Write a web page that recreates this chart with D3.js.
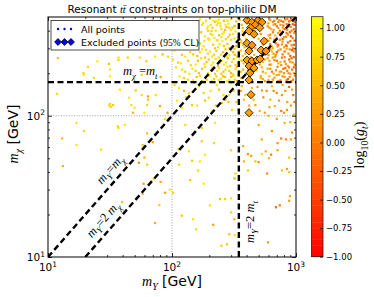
<!DOCTYPE html>
<html>
<head>
<meta charset="utf-8">
<script src="https://d3js.org/d3.v7.min.js"></script>
<style>
  body { margin: 0; background: #fff; }
  svg { display: block; font-family: "DejaVu Sans", sans-serif; }
</style>
</head>
<body>
<svg id="chart" width="374" height="297"></svg>
<script>
  // scan points [mY (GeV), mX (GeV), log10(g_t)]
  const scanLeft = [
    [21,222,0.8],[25,243,0.9],[31,233,0.6],[31.6,213,0.85],[19.3,200,0.7],[19.5,195,0.9],[23.5,185,0.75],
    [31.6,190,0.95],[11.8,143,0.8],[31.6,121,0.7],[31,119,0.9],[32,116,0.6],[17,89,0.85],[19.5,78,0.75],
    [13,69,0.5],[17,62,0.9],[26.8,57.5,0.8],[13.2,44,0.45],[37,82,0.85],[12,256,0.6],[37,258,0.9],
    [37,248,0.8],[44,258,0.7],[55,258,0.85],[62,243,0.65],[73,262,0.9],[84,272,0.5],[93,262,0.8],
    [57,195,0.7],[69,210,0.9],[81,188,0.4],[38,153,0.85],[51,151,0.6],[45,134,0.9],[57,140,0.75],
    [64,137,0.3],[74,140,0.8],[33.5,119,0.7],[47,119,0.85],[50,114,0.9],[64,130,0.6],[63,119,0.8],
    [48.5,105,0.5],[60,105,0.9],[80,117,0.4],[36.6,84,0.75],[41.6,86,0.9],[63,75,0.6],[88,95,0.8],
    [92,105,0.3],[58,62,0.6],[70,65,0.3],[60,50.6,0.5],[54,46.5,0.2],[63,45,0.7],[59,33,0.3],
    [71,35.5,0.85],[81,34,0.4],[58,28,0.5],[88,28.5,0.3],[96,30,0.9],[39.6,24.5,0.6],[79,23.3,0.7],
    [73,17.4,0.4],[70,480,0.7],[80,470,0.5],[90,485,0.8],[95,465,0.6]
  ];
  const scanLowRight = [
    [174,66,0.7],[218,64,0.8],[113,58,0.6],[137,56,0.85],[185,53,0.9],[145,48,0.7],[168,47.5,0.9],
    [114,45,0.75],[162,41,0.8],[140,35,0.6],[180,33,0.85],[300,57,0.7],[375,61,0.4],[410,53.5,0.2],
    [435,52,0.3],[380,47.5,0.5],[470,47.5,0.6],[500,47,0.2],[530,53.5,0.8],[570,56,0.4],[630,53,0.1],
    [605,50,0.5],[710,57,0.3],[880,50.6,0.6],[325,39,0.8],[320,36,0.4],[410,41,0.7],[585,39,0.2],
    [770,41,0.6],[845,42,0.3],[880,40,0.7],[895,27,0.4],[880,25,0.3],[690,22.5,-0.2],[740,23.2,0.0],
    [102,28.5,0.7],[120,19.6,0.6],[148,18.5,0.85],[156,15.7,0.8],[202,23.2,0.9],[244,25.7,0.6],
    [268,25.7,0.7],[300,26,0.9],[215,16.9,0.3],[300,20.7,0.7],[318,18.5,0.4],[290,14.5,0.6],
    [320,14.3,0.85],[250,12,0.7],[278,12.3,0.6],[595,12.7,0.3],[530,68,0.4],[710,64,0.2],[830,68,0.1],
    [910,68,0.3],[760,69,0.0],[128,86,0.8],[174,82,0.7],[222,89,0.9],[345,80,0.6],[500,86,0.4],
    [640,78,0.2],[810,89,0.5],[930,76,0.1]
  ];
  const scanMid = [
    [114,157,0.9],[137,144,0.7],[165,162,0.85],[198,134,0.8],[240,153,0.6],[288,140,0.9],[441,157,0.5],
    [532,151,0.3],[640,162,0.6],[770,140,0.2],[930,153,0.4],[120,114,0.8],[145,119,0.7],[210,108,0.9],
    [252,123,0.6],[305,110,0.8],[470,119,0.4],[560,105,0.3],[675,117,0.5],[845,110,0.2],[960,102,0.4],
    [105,165,0.8],[125,150,0.6],[150,170,0.9],[180,145,0.75],[230,165,0.85],[270,130,0.5],[300,170,0.9],
    [330,125,0.7],[360,150,0.4],[380,130,0.6],[580,150,0.2],[620,130,0.5],[700,145,0.1],[780,165,0.4],
    [850,125,0.3],[950,140,0.0],[600,100,0.5],[700,95,0.3],[800,105,0.2],[900,90,0.4],
    [110,128,0.9],[130,135,0.7],[160,118,0.85],[185,128,0.6],[205,150,0.9],[225,118,0.7],[260,140,0.8],
    [285,125,0.6],[315,150,0.85],[340,110,0.7],[365,162,0.5],[390,140,0.6],[420,118,0.4],[455,130,0.5],
    [490,160,0.3],[510,108,0.5],[545,135,0.2],[610,115,0.4],[660,150,0.1],[730,128,0.3],[760,108,0.0],
    [820,150,0.2],[880,160,-0.1],[910,118,0.3],[970,125,0.1]
  ];
  const scanHigh = [
    [168,480,0.9],[188,470,0.8],[203,485,0.95],[222,462,0.7],[238,478,0.9],[262,470,0.6],[300,482,0.8],
    [330,465,0.5],[610,478,0.3],[650,462,0.1],[700,485,0.4],[760,470,-0.1],[820,480,0.2],[880,465,-0.3],
    [950,476,0.1],[175,440,0.85],[195,430,0.95],[212,420,0.7],[230,438,0.9],[250,410,0.8],[275,425,0.6],
    [298,405,0.9],[320,432,0.4],[345,415,0.7],[365,440,0.5],[590,430,0.2],[630,410,0.5],[680,445,0.0],
    [720,418,0.3],[790,435,-0.2],[850,405,0.2],[905,425,0.0],[970,440,-0.4],[172,390,0.7],[185,365,0.9],
    [205,380,0.8],[220,355,0.95],[240,372,0.6],[262,390,0.85],[285,360,0.7],[310,380,0.9],[340,358,0.5],
    [370,395,0.7],[600,370,0.4],[650,390,0.1],[700,355,0.3],[760,380,-0.1],[830,362,0.2],[890,390,-0.2],
    [940,355,0.1],[110,340,0.8],[125,320,0.9],[150,330,0.6],[180,310,0.85],[200,345,0.9],[215,318,0.7],
    [235,305,0.8],[255,338,0.95],[280,322,0.6],[300,345,0.8],[330,312,0.5],[360,330,0.7],[385,305,0.4],
    [600,340,0.3],[640,310,0.6],[690,325,0.0],[740,345,0.2],[800,305,0.4],[860,330,-0.1],[920,315,0.1],
    [975,340,-0.3],[105,290,0.9],[120,270,0.7],[140,282,0.85],[160,265,0.6],[175,295,0.9],[195,275,0.8],
    [210,262,0.95],[228,288,0.7],[248,270,0.85],[270,295,0.6],[290,268,0.9],[312,282,0.5],[335,262,0.8],
    [360,290,0.6],[390,275,0.4],[560,295,0.5],[600,268,0.2],[640,285,0.6],[680,262,0.1],[720,290,0.3],
    [780,272,0.0],[840,298,0.4],[900,265,-0.2],[960,285,0.2],[102,250,0.8],[118,235,0.9],[135,245,0.7],
    [155,230,0.95],[172,255,0.8],[190,240,0.6],[208,228,0.9],[225,252,0.85],[243,238,0.7],[262,230,0.9],
    [282,255,0.5],[305,240,0.8],[326,228,0.6],[350,250,0.9],[378,235,0.5],[540,240,0.6],[590,255,0.3],
    [630,230,0.5],[670,248,0.1],[720,235,0.4],[770,258,0.0],[830,232,0.3],[880,250,-0.1],[940,238,0.2],
    [108,220,0.85],[128,205,0.7],[146,215,0.9],[165,200,0.6],[185,222,0.8],[205,210,0.9],[222,198,0.7],
    [240,218,0.85],[260,205,0.6],[280,222,0.9],[300,200,0.5],[325,215,0.8],[345,198,0.6],[375,212,0.4],
    [530,220,0.5],[570,200,0.7],[620,215,0.2],[660,198,0.5],[710,222,0.1],[760,205,0.3],[820,218,-0.1],
    [870,200,0.2],[930,212,0.0],[115,190,0.9],[135,180,0.8],[158,188,0.6],[178,176,0.85],[200,192,0.9],
    [218,182,0.7],[238,178,0.8],[258,190,0.5],[278,175,0.9],[300,188,0.6],[322,180,0.8],[345,192,0.4],
    [520,185,0.6],[560,176,0.3],[610,190,0.5],[650,180,0.2],[700,194,0.4],[750,178,0.0],[810,188,0.3],
    [860,182,-0.2],[920,176,0.1],[975,192,0.3],[390,470,0.5],[420,430,0.3],[470,400,0.6],[520,380,0.2],
    [560,460,0.4],[580,350,0.5],[395,350,0.6],[540,320,0.3],[460,270,0.5],[510,230,0.4],[390,250,0.7],
    [560,270,0.2],[600,450,0.3],[660,440,0.4],[720,460,0.1],[780,420,0.3],[840,445,-0.1],[900,470,0.2],
    [960,410,-0.2],[620,375,0.2],[680,370,0.5],[740,400,0.0],[800,360,0.3],[860,375,0.1],[920,400,0.0],
    [650,300,0.4],[710,310,0.1],[770,320,0.3],[830,315,0.0],[890,295,0.2],[950,300,-0.1],[610,245,0.4],
    [690,270,0.2],[750,240,0.5],[810,260,0.1],[900,240,0.3],[960,260,-0.2],[740,205,0.4],[800,200,0.2],
    [880,220,0.0],[960,200,0.3],[215,470,0.9],[245,450,0.8],[270,440,0.95],[290,420,0.7],[225,400,0.9],
    [255,380,0.85],[205,440,0.8],[235,455,0.9],[195,400,0.7],[280,470,0.85]
  ];
  const scanDense = [
    [178,452,0.8],[192,415,0.9],[208,398,0.7],[228,468,0.95],[246,430,0.85],[268,405,0.6],[285,448,0.9],
    [308,420,0.7],[325,395,0.85],[352,478,0.6],[372,418,0.5],[382,372,0.7],[182,338,0.9],[196,352,0.8],
    [212,372,0.85],[232,342,0.7],[250,360,0.9],[272,348,0.75],[292,375,0.6],[318,352,0.8],[348,372,0.5],
    [362,340,0.7],[112,305,0.8],[132,298,0.6],[148,312,0.9],[168,325,0.7],[188,292,0.85],[222,300,0.6],
    [242,322,0.9],[262,312,0.7],[288,302,0.85],[318,298,0.6],[342,325,0.8],[375,318,0.5],[128,262,0.9],
    [148,272,0.7],[168,282,0.85],[185,258,0.6],[202,285,0.9],[218,270,0.75],[238,258,0.8],[258,282,0.6],
    [278,262,0.9],[300,290,0.7],[322,270,0.5],[345,285,0.8],[372,265,0.6],[112,238,0.7],[142,228,0.8],
    [162,245,0.6],[182,232,0.9],[198,250,0.7],[215,238,0.85],[235,225,0.6],[252,245,0.8],[272,238,0.9],
    [295,225,0.7],[315,252,0.6],[338,235,0.85],[365,245,0.5],[120,212,0.8],[138,198,0.9],[155,208,0.7],
    [175,215,0.6],[195,200,0.85],[212,218,0.7],[232,208,0.9],[250,198,0.6],[270,212,0.8],[290,208,0.7],
    [312,196,0.85],[335,222,0.5],[358,205,0.6],[125,185,0.7],[148,178,0.9],[168,192,0.8],[190,180,0.6],
    [210,176,0.85],[228,190,0.7],[248,182,0.9],[268,188,0.6],[290,178,0.8],[312,192,0.7],[335,176,0.6],
    [362,185,0.5],[620,478,0.2],[670,470,0.0],[730,475,0.3],[790,462,-0.2],[850,485,0.1],[920,480,-0.3],
    [980,462,0.0],[610,420,0.1],[660,405,0.3],[700,430,-0.1],[750,440,0.2],[810,410,-0.3],[870,430,0.1],
    [940,445,-0.2],[620,355,0.3],[670,345,0.0],[720,385,0.2],[780,350,-0.2],[840,385,0.0],[910,365,-0.4],
    [970,385,0.1],[620,322,0.1],[670,335,0.3],[720,318,-0.1],[780,335,0.2],[840,312,-0.2],[900,338,0.0],
    [960,318,-0.3],[580,280,0.3],[620,295,0.0],[660,275,0.2],[700,282,-0.2],[750,295,0.1],[810,285,-0.1],
    [870,275,0.2],[930,292,-0.3],[560,250,0.4],[610,230,0.1],[650,258,0.3],[700,245,-0.1],[760,228,0.2],
    [810,242,0.0],[860,225,0.3],[920,255,-0.2],[975,230,0.1],[540,205,0.3],[590,215,0.5],[640,205,0.0],
    [690,210,0.2],[730,195,0.4],[790,215,-0.1],[850,208,0.1],[900,198,0.3],[960,220,-0.2],[540,182,0.4],
    [600,178,0.1],[670,186,0.3],[720,176,0.0],[780,190,0.2],[840,178,-0.1],[890,188,0.2],[950,180,0.0],
    [400,460,0.5],[450,400,0.4],[500,350,0.6],[470,300,0.3],[430,260,0.5],[480,210,0.4],[520,190,0.3],
    [410,210,0.6]
  ];
  // excluded at 95% CL
  const excluded = [
    [403,474,0.2],[441,459,0.3],[494,474,0.25],[532,459,0.2],[470,440,0.2],[510,420,0.3],[430,420,0.25],
    [418,397,0.3],[458,378,0.25],[403,326,0.3],[441,316,0.2],[552,337,0.25],[522,292,0.3],[573,287,0.2],
    [418,287,0.25],[403,248,0.3],[441,244,0.2],[485,248,0.3],[513,252,0.25],[418,225,0.2],[458,218,0.3],
    [425,201,0.25],[418,179,0.3],[433,141,0.25],[418,105,0.3]
  ];
  const mTop = 173;
  const xMajor = [10, 100, 1000];
  const yMajor = [10, 100];
  const xMinor = [20,30,40,50,60,70,80,90,200,300,400,500,600,700,800,900];
  const yMinor = [20,30,40,50,60,70,80,90,200,300,400];
  const cbTicks = [-1, -0.75, -0.5, -0.25, 0, 0.25, 0.5, 0.75, 1];

  const svg = d3.select("#chart");
  const L = 48, R = 296, T = 17, B = 257;
  const x = d3.scaleLog().domain([10, 1000]).range([L, R]);
  const y = d3.scaleLog().domain([10, 500]).range([B, T]);
  const gMin = -1, gMax = 1.1;
  const colour = g => {
    const t = Math.max(0, Math.min(1, (g - gMin) / (gMax - gMin)));
    return d3.rgb(255, Math.round(255 * t), 0).toString();
  };
  const serif = '"Liberation Serif", "DejaVu Serif", serif';

  // math-ish text with sub/superscripts
  function rich(sel, parts, size) {
    let shift = 0;
    parts.forEach(p => {
      const target = p.sub ? size * 0.28 : p.sup ? -size * 0.42 : 0;
      sel.append("tspan")
        .attr("dy", target - shift)
        .attr("font-size", (p.sub || p.sup) ? size * 0.7 : size)
        .attr("font-family", p.sans ? '"DejaVu Sans", sans-serif' : serif)
        .attr("font-style", p.it ? "italic" : "normal")
        .text(p.t);
      shift = target;
    });
    return sel;
  }

  svg.append("clipPath").attr("id", "plotclip")
    .append("rect").attr("x", L).attr("y", T).attr("width", R - L).attr("height", B - T);

  const plot = svg.append("g").attr("clip-path", "url(#plotclip)");

  // grid at 10^2
  plot.append("line").attr("x1", x(100)).attr("x2", x(100)).attr("y1", T).attr("y2", B)
    .attr("stroke", "#777").attr("stroke-width", 0.7).attr("stroke-dasharray", "1,1.6");
  plot.append("line").attr("x1", L).attr("x2", R).attr("y1", y(100)).attr("y2", y(100))
    .attr("stroke", "#777").attr("stroke-width", 0.7).attr("stroke-dasharray", "1,1.6");

  // all scan points
  const allPts = scanLeft.concat(scanLowRight, scanMid, scanHigh, scanDense);
  plot.append("g").selectAll("rect")
    .data(allPts)
    .enter().append("rect")
    .attr("x", d => x(d[0]) - 1.1)
    .attr("y", d => y(d[1]) - 1.1)
    .attr("width", 2.2).attr("height", 2.2)
    .attr("fill", d => colour(d[2]));

  // reference lines
  const lines = [
    [[10, 10], [500, 500]],
    [[20, 10], [1000, 500]],
    [[10, mTop], [1000, mTop]],
    [[2 * mTop, 10], [2 * mTop, 500]]
  ];
  plot.append("g").selectAll("line")
    .data(lines)
    .enter().append("line")
    .attr("x1", d => x(d[0][0])).attr("y1", d => y(d[0][1]))
    .attr("x2", d => x(d[1][0])).attr("y2", d => y(d[1][1]))
    .attr("stroke", "#000").attr("stroke-width", 2.4)
    .attr("stroke-dasharray", "6,3.5");

  // excluded diamonds
  const diamond = d3.symbol().type(d3.symbolDiamond2).size(42);
  plot.append("g").selectAll("path")
    .data(excluded)
    .enter().append("path")
    .attr("d", diamond)
    .attr("transform", d => `translate(${x(d[0])},${y(d[1])})`)
    .attr("fill", d => colour(d[2]))
    .attr("stroke", "#000").attr("stroke-width", 0.8);

  // annotations
  const ang = Math.atan2(y(100) - y(10), x(100) - x(10)) * 180 / Math.PI;
  rich(svg.append("text").attr("x", 123).attr("y", 75), [
    {t: "m", it: true}, {t: "χ", it: true, sub: true}, {t: " =", it: false}, {t: "m", it: true}, {t: "t", it: true, sub: true}
  ], 12.5);
  rich(svg.append("text").attr("text-anchor", "middle")
    .attr("transform", `translate(113,172) rotate(${ang})`), [
    {t: "m", it: true}, {t: "Y", it: true, sub: true}, {t: "=", it: false}, {t: "m", it: true}, {t: "χ", it: true, sub: true}
  ], 12.5);
  rich(svg.append("text").attr("text-anchor", "middle")
    .attr("transform", `translate(106,222) rotate(${ang})`), [
    {t: "m", it: true}, {t: "Y", it: true, sub: true}, {t: "=2 ", it: false}, {t: "m", it: true}, {t: "χ", it: true, sub: true}
  ], 12.5);
  rich(svg.append("text").attr("text-anchor", "middle")
    .attr("transform", `translate(254,222) rotate(-90)`), [
    {t: "m", it: true}, {t: "Y", it: true, sub: true}, {t: "=2 ", it: false}, {t: "m", it: true}, {t: "t", it: true, sub: true}
  ], 12.5);

  // axes ticks (inward, all four sides)
  function ticks(axis, vals, len, tr) {
    svg.append("g").attr("transform", tr)
      .call(axis.tickValues(vals).tickSize(-len).tickFormat(""))
      .call(g => g.select(".domain").remove())
      .call(g => g.selectAll("line").attr("stroke", "#000").attr("stroke-width", 0.8));
  }
  ticks(d3.axisBottom(x), xMajor, 4, `translate(0,${B})`);
  ticks(d3.axisBottom(x), xMinor, 2, `translate(0,${B})`);
  ticks(d3.axisTop(x), xMajor, 4, `translate(0,${T})`);
  ticks(d3.axisTop(x), xMinor, 2, `translate(0,${T})`);
  ticks(d3.axisLeft(y), yMajor, 4, `translate(${L},0)`);
  ticks(d3.axisLeft(y), yMinor, 2, `translate(${L},0)`);
  ticks(d3.axisRight(y), yMajor, 4, `translate(${R},0)`);
  ticks(d3.axisRight(y), yMinor, 2, `translate(${R},0)`);

  svg.append("rect").attr("x", L).attr("y", T).attr("width", R - L).attr("height", B - T)
    .attr("fill", "none").attr("stroke", "#000").attr("stroke-width", 1);

  // tick labels
  function powLabel(px, py, exp, anchor) {
    const t = svg.append("text").attr("x", px).attr("y", py).attr("text-anchor", anchor)
      .attr("font-size", 10.5);
    t.append("tspan").text("10");
    t.append("tspan").attr("dy", -4.5).attr("font-size", 7.5).text(exp);
  }
  xMajor.forEach(v => powLabel(x(v), 271, Math.round(Math.log10(v)), "middle"));
  yMajor.forEach(v => powLabel(45, y(v) + 4, Math.round(Math.log10(v)), "end"));

  // axis titles
  rich(svg.append("text").attr("x", 172).attr("y", 286).attr("text-anchor", "middle"), [
    {t: "m", it: true}, {t: "Y", it: true, sub: true}, {t: " [GeV]", sans: true}
  ], 14);
  rich(svg.append("text").attr("text-anchor", "middle")
    .attr("transform", "translate(18,134) rotate(-90)"), [
    {t: "m", it: true}, {t: "χ", it: true, sub: true}, {t: " [GeV]", sans: true}
  ], 14);

  // title
  rich(svg.append("text").attr("x", 172).attr("y", 13).attr("text-anchor", "middle"), [
    {t: "Resonant ", sans: true}, {t: "tt̄", it: true}, {t: " constraints on top-philic DM", sans: true}
  ], 10.5);

  // legend
  const leg = svg.append("g");
  leg.append("rect").attr("x", 51).attr("y", 20.5).attr("width", 148).attr("height", 29.5)
    .attr("fill", "#fff").attr("stroke", "#222").attr("stroke-width", 0.8);
  [58, 64.5, 71].forEach(cx => {
    leg.append("circle").attr("cx", cx).attr("cy", 29).attr("r", 1.2).attr("fill", "#00f");
    leg.append("path").attr("d", d3.symbol().type(d3.symbolDiamond2).size(30)())
      .attr("transform", `translate(${cx},42)`).attr("fill", "#00f")
      .attr("stroke", "#000").attr("stroke-width", 0.8);
  });
  leg.append("text").attr("x", 81).attr("y", 33).attr("font-size", 9.5).text("All points");
  rich(leg.append("text").attr("x", 81).attr("y", 46), [
    {t: "Excluded points (", sans: true}, {t: "95%", it: false}, {t: " CL)", sans: true}
  ], 9.5);

  // colorbar
  const cb = d3.scaleLinear().domain([gMin, gMax]).range([256.7, 16.7]);
  const cbX = 311.5, cbW = 11.5;
  const step = (gMax - gMin) / 42;
  const bands = d3.range(42).map(i => gMin + i * step);
  svg.append("g").selectAll("rect")
    .data(bands)
    .enter().append("rect")
    .attr("x", cbX).attr("width", cbW)
    .attr("y", d => cb(d + step))
    .attr("height", d => cb(d) - cb(d + step) + 0.3)
    .attr("fill", d => colour(d + step / 2));
  svg.append("rect").attr("x", cbX).attr("y", 16.7).attr("width", cbW).attr("height", 240)
    .attr("fill", "none").attr("stroke", "#222").attr("stroke-width", 0.8);
  svg.append("g").attr("transform", `translate(${cbX + cbW},0)`)
    .call(d3.axisRight(cb).tickValues(cbTicks).tickSize(-3).tickPadding(3)
      .tickFormat(d => d3.format(".2f")(d).replace("-", "−")))
    .call(g => g.select(".domain").remove())
    .call(g => g.selectAll("line").attr("stroke", "#000").attr("stroke-width", 0.7))
    .call(g => g.selectAll("text").attr("font-size", 8.5).attr("font-family", '"DejaVu Sans", sans-serif').attr("fill", "#000"));
  rich(svg.append("text").attr("text-anchor", "middle")
    .attr("transform", "translate(364,145) rotate(-90)"), [
    {t: "log", it: false}, {t: "10", sub: true}, {t: "(", it: false}, {t: "g", it: true}, {t: "t", it: true, sub: true}, {t: ")", it: false}
  ], 14);
</script>
</body>
</html>
